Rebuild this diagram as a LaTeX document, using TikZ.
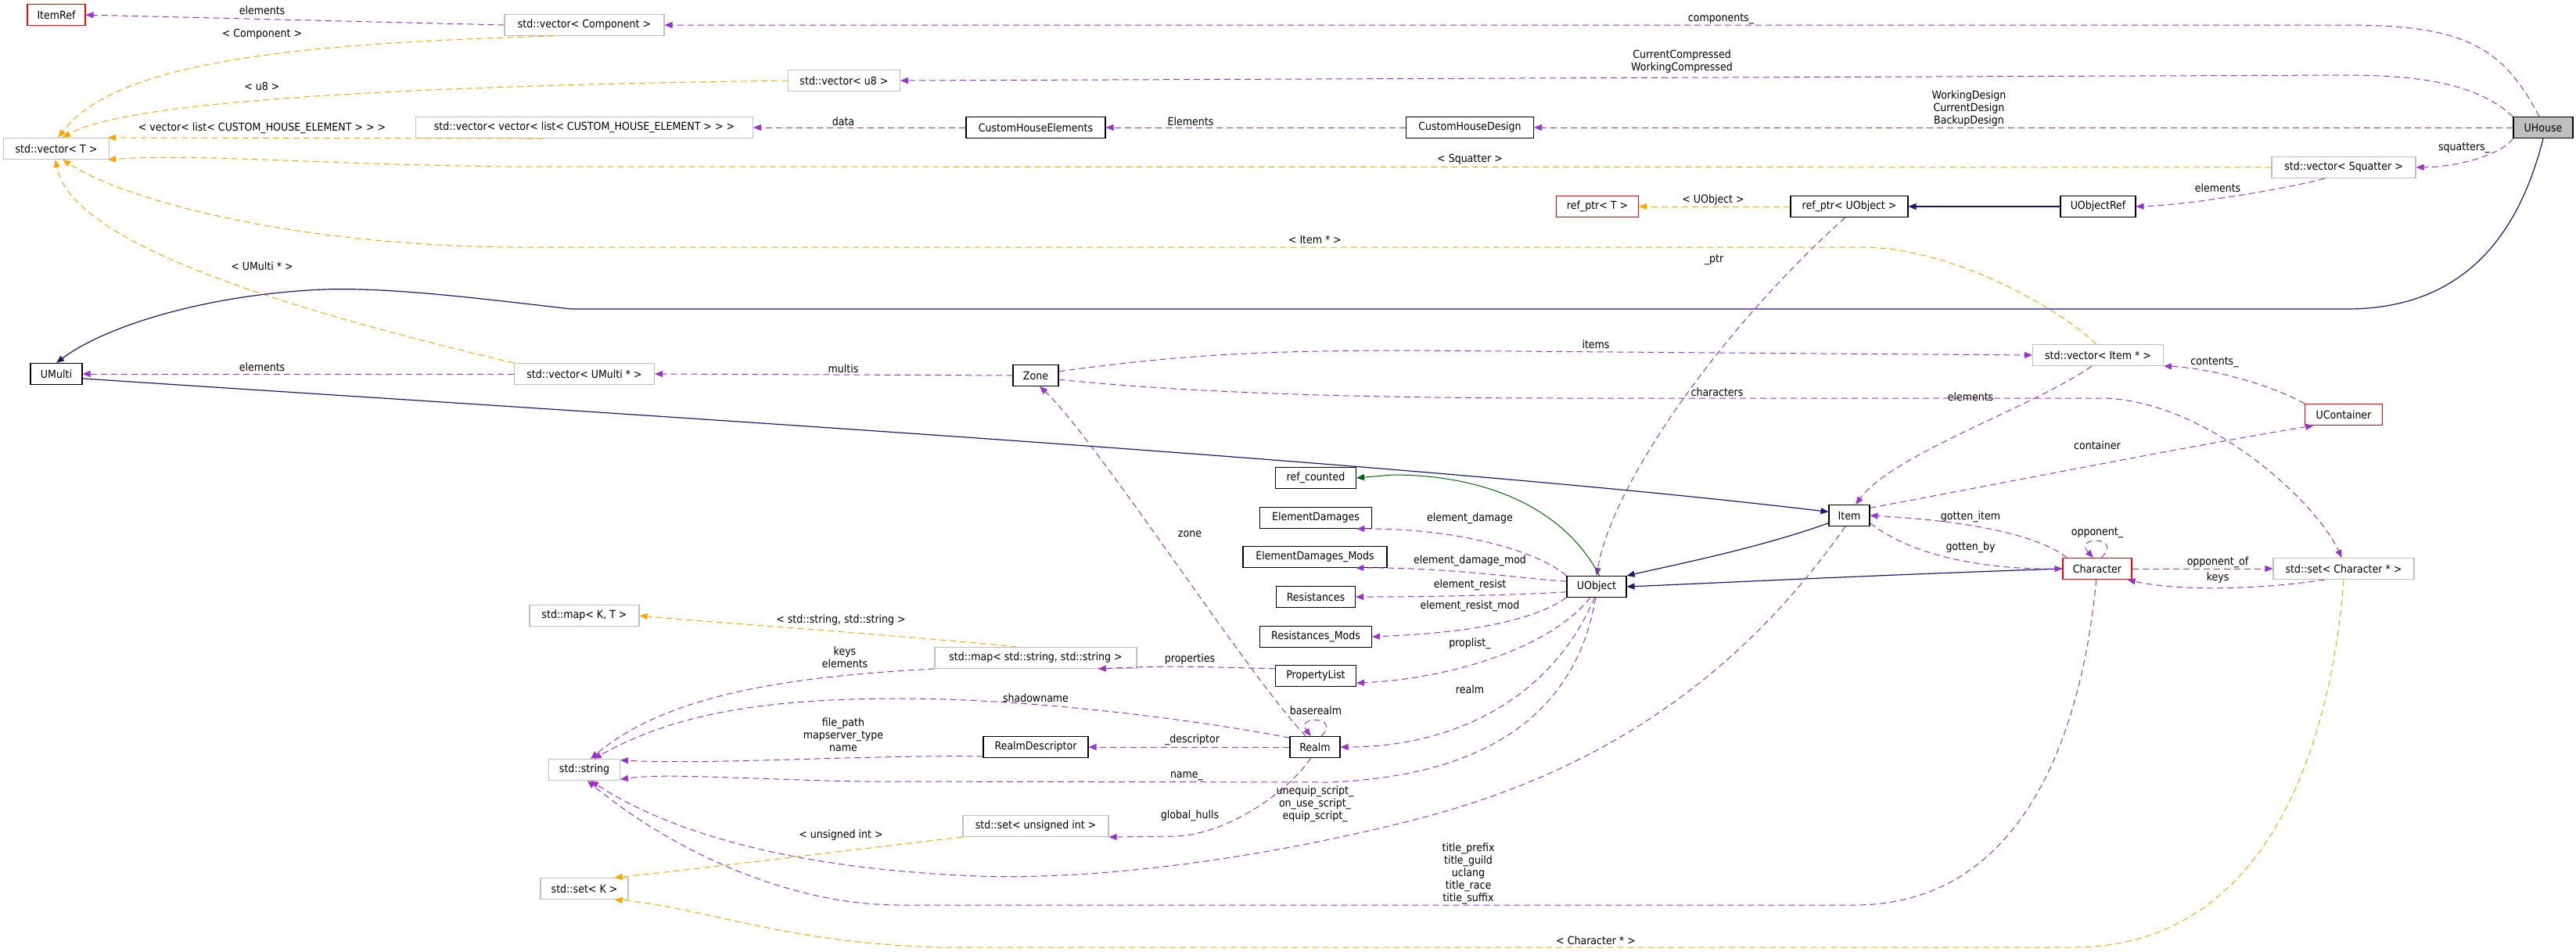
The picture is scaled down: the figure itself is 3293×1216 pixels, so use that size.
\documentclass[tikz,border=0pt]{standalone}
\usepackage{fontspec}
\setmainfont{DejaVu Sans Condensed}
\usetikzlibrary{arrows.meta}
\definecolor{pur}{HTML}{9A32CD}
\definecolor{org}{HTML}{FFA500}
\definecolor{nav}{HTML}{191970}
\definecolor{grn}{HTML}{006400}
\definecolor{gbd}{HTML}{BFBFBF}
\begin{document}
\begin{tikzpicture}[x=0.5pt,y=-0.5pt,
  lf/.style={font=\fontsize{7}{8}\selectfont},
  box/.style={draw=black,line width=0.55pt,minimum height=13.5pt,inner sep=0pt,lf,fill=white,minimum width={#1*0.5pt}},
  gbox/.style={box=#1,draw=gbd},
  rbox/.style={box=#1,draw=red},
  tip/.style={-{Triangle[length=5pt,width=4pt]}},
  pe/.style={tip,draw=pur,line width=0.5pt,dash pattern=on 4pt off 2.5pt},
  oe/.style={tip,draw=org,line width=0.5pt,dash pattern=on 4pt off 2.5pt},
  ne/.style={tip,draw=nav,line width=0.6pt},
  ge/.style={tip,draw=grn,line width=0.5pt},
  lb/.style={lf,align=center,inner sep=0pt}]
\useasboundingbox (0,0) rectangle (3293,1216);
% nodes
\node[rbox=74] (ItemRef) at (72,19) {ItemRef};
\node[gbox=204] (vComp) at (747,32) {std::vector< Component >};
\node[gbox=143] (vu8) at (1079,103) {std::vector< u8 >};
\node[gbox=431] (vvec) at (747,163) {std::vector< vector< list< CUSTOM\_HOUSE\_ELEMENT > > >};
\node[gbox=135] (vT) at (72,190) {std::vector< T >};
\node[box=66] (UMulti) at (72,478) {UMulti};
\node[gbox=179] (vUM) at (747,478) {std::vector< UMulti * >};
\node[box=178] (CHE) at (1324,163) {CustomHouseElements};
\node[box=163] (CHD) at (1879,163) {CustomHouseDesign};
\node[rbox=105] (rpT) at (2042,264) {ref\_ptr< T >};
\node[box=58] (Zone) at (1324,480) {Zone};
\node[box=76,fill=gbd] (UHouse) at (3251,163) {UHouse};
\node[gbox=184] (vSq) at (2996,214) {std::vector< Squatter >};
\node[box=150] (rpU) at (2364,264) {ref\_ptr< UObject >};
\node[box=96] (UORef) at (2682,264) {UObjectRef};
\node[gbox=167] (vItem) at (2682,454) {std::vector< Item * >};
\node[box=103] (RC) at (1682,611) {ref\_counted};
\node[box=143] (ED) at (1682,662) {ElementDamages};
\node[box=184] (EDM) at (1681,712) {ElementDamages\_Mods};
\node[box=101] (Res) at (1682,763) {Resistances};
\node[box=143] (RM) at (1682,814) {Resistances\_Mods};
\node[box=103] (PL) at (1682,864) {PropertyList};
\node[gbox=258] (mapSS) at (1324,841) {std::map< std::string, std::string >};
\node[box=64] (Realm) at (1681,955) {Realm};
\node[box=134] (RD) at (1324,955) {RealmDescriptor};
\node[box=76] (UObj) at (2041,750) {UObject};
\node[rbox=99] (UCont) at (2996,530) {UContainer};
\node[box=52] (Item) at (2364,659) {Item};
\node[rbox=88] (Char) at (2681,727) {Character};
\node[gbox=180] (sCh) at (2996,727) {std::set< Character * >};
\node[gbox=140] (mapKT) at (747,787) {std::map< K, T >};
\node[gbox=91] (str) at (747,984) {std::string};
\node[gbox=112] (sK) at (747,1136) {std::set< K >};
\node[gbox=186] (sUI) at (1324,1056) {std::set< unsigned int >};
% edges
\draw[pe] (UHouse.110) .. controls (3200,60) and (3150,32) .. (3000,32) -- (vComp.east);
\draw[pe] (UHouse.north west) .. controls (3180,120) and (3130,96) .. (3000,96) -- (vu8.east);
\draw[pe] (UHouse.west) -- (CHD.east);
\draw[pe] (CHD.west) -- (CHE.east);
\draw[pe] (CHE.west) -- (vvec.east);
\draw[pe] (vComp.west) -- (ItemRef.east);
\draw[oe] (vComp.200) .. controls (400,55) and (150,75) .. (vT.80);
\draw[oe] (vu8.west) .. controls (500,110) and (160,130) .. (vT.60);
\draw[oe] (vvec.195) -- (vT.12);
\draw[oe] (vSq.west) -- (650,213) .. controls (400,210) and (250,196) .. (vT.-12);
\draw[oe] (vItem.100) .. controls (2640,400) and (2500,316) .. (2380,316) -- (650,316) .. controls (350,312) and (150,250) .. (vT.-60);
\draw[oe] (vUM.north west) .. controls (300,380) and (90,300) .. (vT.-95);
\draw[pe] (vUM.west) -- (UMulti.east);
\draw[pe] (Zone.west) -- (vUM.east);
\draw[ne] (UHouse.south) .. controls (3220,300) and (3150,395) .. (3000,395) -- (730,395) .. controls (600,380) and (480,365) .. (395,371) .. controls (250,380) and (130,420) .. (UMulti.north);
\draw[pe] (UHouse.south west) .. controls (3200,195) and (3150,213) .. (vSq.east);
\draw[pe] (vSq.-150) .. controls (2930,240) and (2800,262) .. (UORef.east);
\draw[ne] (UORef.west) -- (rpU.east);
\draw[oe] (rpU.west) -- (rpT.east);
\draw[pe] (rpU.-110) .. controls (2200,420) and (2060,620) .. (UObj.north);
\draw[pe] (Zone.10) .. controls (1500,455) and (1600,448) .. (1800,448) -- (vItem.west);
\draw[pe] (Zone.-10) .. controls (1500,500) and (1700,509) .. (2000,509) -- (2688,509) .. controls (2820,512) and (2960,640) .. (sCh.100);
\draw[pe] (vItem.-120) .. controls (2600,520) and (2420,580) .. (Item.60);
\draw[pe] (UCont.north west) .. controls (2900,490) and (2820,470) .. (vItem.south east);
\draw[pe] (Item.20) .. controls (2600,610) and (2800,570) .. (UCont.200);
\draw[ne] (UMulti.-10) .. controls (800,530) and (1800,590) .. (Item.170);
\draw[ne] (Item.200) .. controls (2250,700) and (2150,720) .. (UObj.20);
\draw[ne] (Char.west) .. controls (2400,735) and (2200,745) .. (UObj.east);
\draw[pe] (Char.160) .. controls (2600,680) and (2500,665) .. (Item.east);
\draw[pe] (Item.-20) .. controls (2450,715) and (2550,728) .. (Char.west);
\draw[pe] (Char.70) .. controls (2715,685) and (2650,685) .. (Char.110);
\draw[pe] (Char.east) -- (sCh.west);
\draw[pe] (sCh.-150) .. controls (2880,755) and (2780,755) .. (Char.-20);
\draw[ge] (UObj.75) .. controls (2000,650) and (1900,607) .. (1780,607) -- (RC.east);
\draw[pe] (UObj.north west) .. controls (1960,700) and (1850,675) .. (ED.-15);
\draw[pe] (UObj.170) .. controls (1950,740) and (1850,725) .. (EDM.-15);
\draw[pe] (UObj.190) .. controls (1950,760) and (1850,763) .. (Res.east);
\draw[pe] (UObj.south west) .. controls (1950,800) and (1850,810) .. (RM.east);
\draw[pe] (UObj.-120) .. controls (1980,830) and (1850,868) .. (PL.-10);
\draw[pe] (UObj.-100) .. controls (1980,900) and (1850,955) .. (Realm.east);
\draw[pe] (PL.170) .. controls (1550,853) and (1500,850) .. (mapSS.-10);
\draw[oe] (mapSS.150) .. controls (1150,812) and (900,795) .. (mapKT.east);
\draw[pe] (mapSS.south west) .. controls (1000,865) and (850,890) .. (str.60);
\draw[pe] (Realm.160) .. controls (1500,915) and (1300,893) .. (1150,893) .. controls (950,893) and (850,920) .. (str.50);
\draw[pe] (RD.190) .. controls (1100,965) and (900,978) .. (str.15);
\draw[pe] (Realm.west) -- (RD.east);
\draw[pe] (UObj.-95) .. controls (2020,880) and (1940,990) .. (1700,1000) -- (1100,999) .. controls (950,996) and (850,988) .. (str.-15);
\draw[pe] (Realm.130) .. controls (1600,870) and (1400,560) .. (Zone.-70);
\draw[pe] (Realm.60) .. controls (1715,915) and (1655,915) .. (Realm.110);
\draw[pe] (Realm.-110) .. controls (1640,1020) and (1560,1069) .. (1500,1069) -- (sUI.south east);
\draw[oe] (sUI.south west) .. controls (1100,1085) and (900,1110) .. (sK.20);
\draw[pe] (Item.-110) .. controls (2200,900) and (2000,1000) .. (1800,1050) .. controls (1600,1100) and (1400,1125) .. (1250,1120) .. controls (1000,1110) and (850,1060) .. (str.-60);
\draw[pe] (Char.-95) .. controls (2660,950) and (2580,1157) .. (2370,1157) -- (1150,1157) .. controls (1000,1157) and (850,1080) .. (str.-75);
\draw[oe] (sCh.south) .. controls (2980,950) and (2900,1211) .. (2650,1211) -- (1200,1211) .. controls (1000,1205) and (900,1160) .. (sK.-20);
% labels
\node[lb] (l1) at (2200,24) {components\_};
\node[lb] (l2) at (2150,79) {CurrentCompressed\\WorkingCompressed};
\node[lb] (l3) at (2517,139) {WorkingDesign\\CurrentDesign\\BackupDesign};
\node[lb] (l4) at (1522,155) {Elements};
\node[lb] (l5) at (1078,155) {data};
\node[lb] (l6) at (335,13) {elements};
\node[lb] (l7) at (335,44) {< Component >};
\node[lb] (l8) at (335,110) {< u8 >};
\node[lb] (l9) at (335,164) {< vector< list< CUSTOM\_HOUSE\_ELEMENT > > >};
\node[lb] (l10) at (1879,204) {< Squatter >};
\node[lb] (l11) at (1681,306) {< Item * >};
\node[lb] (l12) at (335,340) {< UMulti * >};
\node[lb] (l13) at (335,469) {elements};
\node[lb] (l14) at (1078,471) {multis};
\node[lb] (l16) at (3150,189) {squatters\_};
\node[lb] (l17) at (2835,240) {elements};
\node[lb] (l19) at (2190,256) {< UObject >};
\node[lb] (l20) at (2191,332) {\_ptr};
\node[lb] (l21) at (2040,440) {items};
\node[lb] (l22) at (2195,501) {characters};
\node[lb] (l23) at (2519,507) {elements};
\node[lb] (l24) at (2831,463) {contents\_};
\node[lb] (l25) at (2681,569) {container};
\node[lb] (l29) at (2519,661) {gotten\_item};
\node[lb] (l30) at (2519,700) {gotten\_by};
\node[lb] (l31) at (2681,681) {opponent\_};
\node[lb] (l32) at (2835,719) {opponent\_of};
\node[lb] (l33) at (2835,739) {keys};
\node[lb] (l35) at (1879,663) {element\_damage};
\node[lb] (l36) at (1879,717) {element\_damage\_mod};
\node[lb] (l37) at (1879,748) {element\_resist};
\node[lb] (l38) at (1879,775) {element\_resist\_mod};
\node[lb] (l39) at (1879,823) {proplist\_};
\node[lb] (l40) at (1879,881) {realm};
\node[lb] (l41) at (1521,843) {properties};
\node[lb] (l42) at (1075,793) {< std::string, std::string >};
\node[lb] (l43) at (1080,840) {keys\\elements};
\node[lb] (l44) at (1324,892) {shadowname};
\node[lb] (l45) at (1078,939) {file\_path\\mapserver\_type\\name};
\node[lb] (l46) at (1524,946) {\_descriptor};
\node[lb] (l47) at (1517,992) {name\_};
\node[lb] (l48) at (1521,683) {zone};
\node[lb] (l49) at (1682,908) {baserealm};
\node[lb] (l50) at (1521,1043) {global\_hulls};
\node[lb] (l51) at (1075,1068) {< unsigned int >};
\node[lb] (l52) at (1681,1028) {unequip\_script\_\\on\_use\_script\_\\equip\_script\_};
\node[lb] (l53) at (1877,1117) {title\_prefix\\title\_guild\\uclang\\title\_race\\title\_suffix};
\node[lb] (l54) at (2040,1202) {< Character * >};
\end{tikzpicture}
\end{document}
